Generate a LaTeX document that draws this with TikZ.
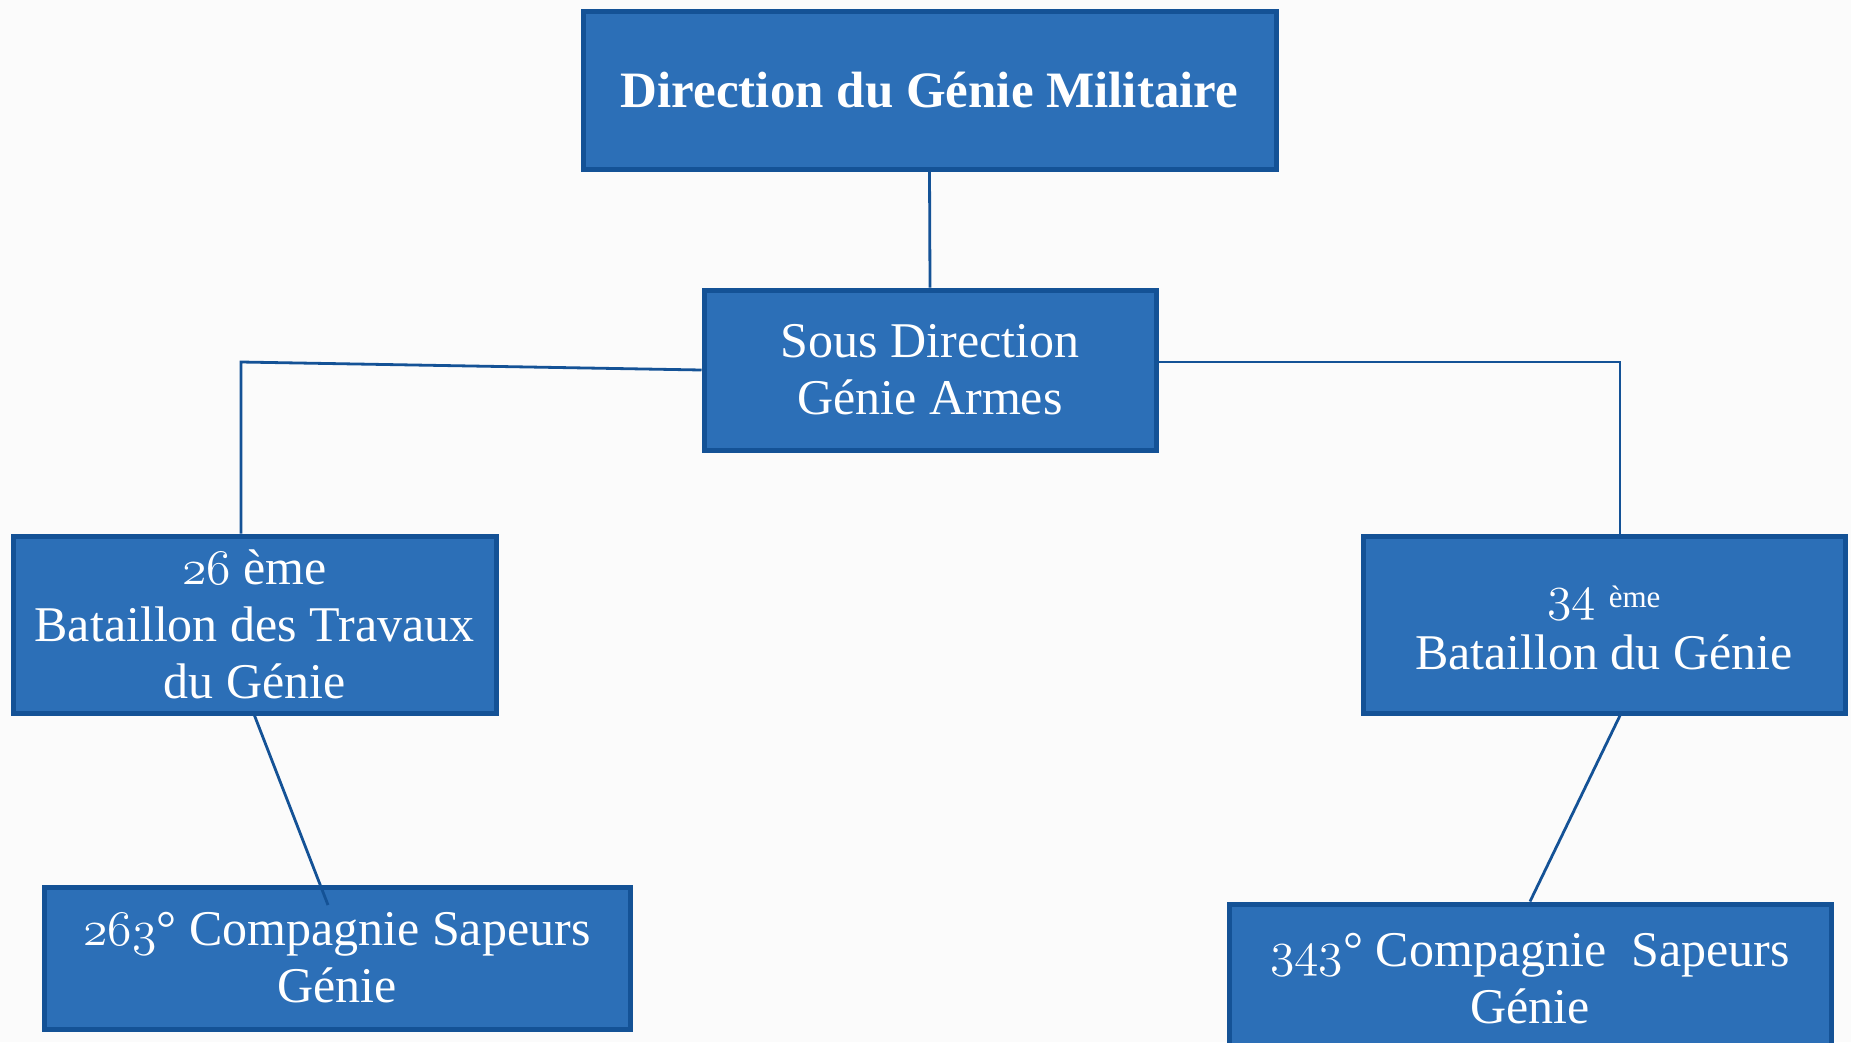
\documentclass[tikz,border=0pt]{standalone}
\usepackage{fontspec}
\setmainfont{Liberation Serif}
\definecolor{boxfill}{RGB}{44,111,183}
\definecolor{boxline}{RGB}{20,82,150}
\definecolor{conn}{RGB}{20,82,150}
\definecolor{bg}{RGB}{251,251,251}
\newcommand\osn[1]{\scalebox{2.0}{\fontsize{24.88}{30}\usefont{OML}{cmm}{m}{it}#1}}
\begin{document}
\begin{tikzpicture}[x=1pt,y=-1pt,
  orgbox/.style={draw=boxline, line width=5pt, fill=boxfill, text=white,
    inner sep=0pt, align=center, font=\fontsize{50}{57}\selectfont},
  boxtext/.style={text=white, inner sep=0pt, align=center, font=\fontsize{50}{57}\selectfont},
  link/.style={draw=conn, line width=2.8pt}]
\clip (0,0) rectangle (1851,1042);
\fill[bg] (0,0) rectangle (1851,1042);
\node[orgbox, minimum width=693pt, minimum height=158pt,
  font=\fontsize{51}{57}\selectfont\bfseries] (dir) at (929.5,90) {Direction du Génie Militaire};
\node[orgbox, minimum width=452pt, minimum height=160pt] (sous) at (930,370) {Sous Direction\\Génie Armes};
\node[orgbox, minimum width=483pt, minimum height=177pt] (bat26) at (254.5,624.5) {\osn{26} ème\\Bataillon des Travaux\\du Génie};
\node[orgbox, minimum width=482pt, minimum height=177pt] (bat34) at (1604,624.5) {};
\node[boxtext] (t34) at (1604,628) {\osn{34} \raisebox{3pt}{\fontsize{31}{32}\selectfont ème}\\[2pt]Bataillon du Génie};
\node[orgbox, minimum width=586pt, minimum height=142pt] (c263) at (337,958) {\osn{263}° Compagnie Sapeurs\\Génie};
\node[orgbox, minimum width=602pt, minimum height=150pt] (c343) at (1530,979) {\osn{343}° Compagnie\ \ Sapeurs\\Génie};
\coordinate (cl) at (241,362);
\coordinate (cr) at (1620,362);
\coordinate (e263) at (328,905);
\draw[link] (dir.south) -- (sous.north);
\draw[link] (sous.west) -- (cl) -- (cl |- bat26.north);
\draw[link] (cr -| sous.east) -- (cr) -- (cr |- bat34.north);
\draw[link] (bat26.south) -- (e263);
\draw[link] (cr |- bat34.south) -- (c343.north);
\end{tikzpicture}
\end{document}
